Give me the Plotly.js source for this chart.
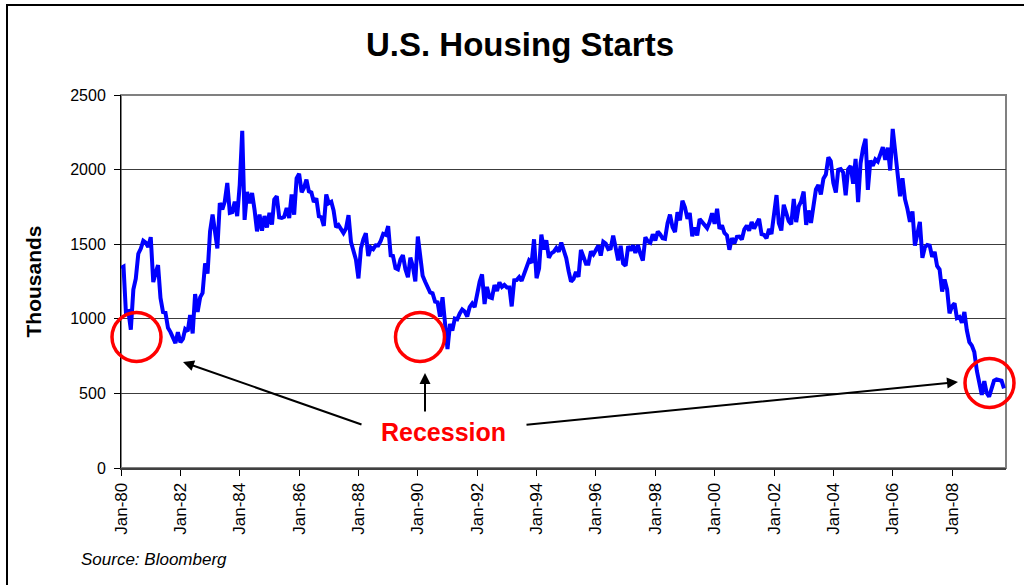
<!DOCTYPE html>
<html>
<head>
<meta charset="utf-8">
<script src="https://cdn.plot.ly/plotly-3.0.1.min.js"></script>
<style>html,body{margin:0;padding:0;background:#fff;}#chart{width:1024px;height:585px;}</style>
</head>
<body>
<div id="chart"></div>
<script>
// Monthly U.S. housing starts, thousands (SAAR), first value = Jan 1980
const firstYear = 1980;
const starts1980s = [
  1341,1350,1047,1051,927,1196,1269,1436,1471,1523,1510,1482,
  1547,1246,1306,1360,1140,1045,1041,940,911,873,837,910,
  843,866,931,917,1025,902,1166,1046,1144,1173,1372,1303,
  1586,1699,1606,1472,1776,1733,1785,1910,1710,1715,1785,1688,
  1897,2260,1663,1851,1774,1843,1732,1586,1698,1590,1689,1612,
  1711,1632,1800,1821,1680,1676,1684,1743,1676,1834,1698,1942,
  1972,1848,1876,1933,1854,1847,1782,1807,1687,1681,1623,1833,
  1774,1784,1726,1614,1628,1594,1575,1605,1695,1515,1456,1397,
  1271,1473,1532,1573,1421,1478,1467,1493,1492,1522,1569,1563,
  1621,1425,1422,1339,1331,1397,1427,1332,1279,1410,1351,1251
];
const starts1990s = [
  1551,1437,1289,1248,1212,1177,1171,1115,1110,1014,1145,969,
  798,965,921,1001,996,1036,1063,1049,1015,1079,1103,1079,
  1176,1250,1297,1099,1214,1145,1139,1226,1186,1244,1214,1227,
  1210,1210,1083,1258,1260,1280,1254,1300,1343,1392,1376,1533,
  1272,1337,1564,1465,1526,1409,1439,1450,1474,1450,1511,1455,
  1407,1316,1249,1267,1314,1281,1461,1416,1369,1369,1452,1431,
  1467,1491,1424,1516,1504,1467,1472,1557,1475,1392,1489,1370,
  1355,1486,1457,1492,1442,1494,1437,1390,1546,1520,1510,1566,
  1525,1584,1567,1540,1536,1641,1698,1614,1582,1715,1660,1792,
  1748,1670,1710,1553,1611,1559,1669,1648,1635,1608,1648,1708
];
const starts2000s = [
  1636,1737,1604,1626,1575,1559,1463,1541,1507,1549,1551,1532,
  1600,1625,1590,1649,1605,1636,1670,1567,1562,1540,1602,1568,
  1698,1829,1642,1592,1764,1717,1655,1633,1804,1648,1753,1788,
  1853,1629,1726,1643,1751,1867,1897,1833,1939,1967,2083,2057,
  1911,1846,1998,2003,1981,1828,2002,2024,1905,2072,1782,2042,
  2144,2207,1864,2061,2025,2068,2054,2095,2151,2065,2147,1994,
  2273,2119,1969,1821,1942,1802,1737,1650,1720,1491,1570,1649,
  1409,1480,1495,1490,1415,1448,1354,1330,1183,1264,1197,1037,
  1084,1103,1005,1013,973,1046,923,844,820,777,652,560,
  490,582,505,478,540,585,594,586,585,534
];
const tickYears = [1980,1982,1984,1986,1988,1990,1992,1994,1996,1998,2000,2002,2004,2006,2008];
const tickLabels = ["Jan-80","Jan-82","Jan-84","Jan-86","Jan-88","Jan-90","Jan-92","Jan-94","Jan-96","Jan-98","Jan-00","Jan-02","Jan-04","Jan-06","Jan-08"];
const yTicks = [0,500,1000,1500,2000,2500];

const values = starts1980s.concat(starts1990s, starts2000s);
const dates = values.map((v, i) => {
  const y = firstYear + Math.floor(i / 12);
  const m = (i % 12) + 1;
  return y + '-' + String(m).padStart(2, '0') + '-01';
});
const tickDates = tickYears.map(y => y + '-01-01');

const FONT = 'Liberation Sans, Arial, sans-serif';

const trace = {
  x: dates, y: values, type: 'scatter', mode: 'lines',
  line: {color: '#0000FF', width: 4},
  hoverinfo: 'x+y'
};

// pixel -> paper helpers for decorations (plot area 121..1006 x, 95..468 y)
const L = 121, R = 1006, T = 95, B = 468;
const px = p => (p - L) / (R - L);
const py = p => (B - p) / (B - T);

const circle = (cx, cy, r) => ({
  type: 'circle', xref: 'paper', yref: 'paper',
  x0: px(cx - r), x1: px(cx + r), y0: py(cy + r), y1: py(cy - r),
  line: {color: '#FF0000', width: 3.5}, layer: 'above'
});

const arrow = (hx, hy, ax, ay) => ({
  xref: 'paper', yref: 'paper', x: px(hx), y: py(hy),
  ax: ax, ay: ay, text: '', showarrow: true,
  arrowhead: 2, arrowsize: 1.1, arrowwidth: 2, arrowcolor: '#000000'
});

const layout = {
  width: 1024, height: 585,
  margin: {l: L, r: 1024 - R, t: T, b: 585 - B, pad: 0},
  paper_bgcolor: '#ffffff', plot_bgcolor: '#ffffff',
  showlegend: false,
  font: {family: FONT, color: '#000000'},
  title: {
    text: 'U.S. Housing Starts',
    font: {family: FONT, size: 33, weight: 'bold', color: '#000000'},
    xref: 'container', yref: 'container', x: 520 / 1024, y: 1 - 44 / 585,
    xanchor: 'center', yanchor: 'middle'
  },
  xaxis: {
    type: 'date', range: ['1980-01-01', '2009-10-26'],
    tickmode: 'array', tickvals: tickDates, ticktext: tickLabels,
    tickangle: -90, tickfont: {family: FONT, size: 17, color: '#000000'},
    ticks: 'outside', ticklen: 6, tickcolor: '#000000', tickwidth: 1,
    showline: true, linecolor: '#404040', linewidth: 2,
    showgrid: false, zeroline: false, automargin: false, fixedrange: true
  },
  yaxis: {
    range: [0, 2500], tickmode: 'array', tickvals: yTicks,
    tickfont: {family: FONT, size: 16, color: '#000000'},
    ticks: 'outside', ticklen: 6, tickcolor: '#000000', tickwidth: 1,
    ticklabelstandoff: 5,
    showline: true, linecolor: '#000000', linewidth: 1,
    showgrid: true, gridcolor: '#3c3c3c', gridwidth: 1,
    zeroline: false, automargin: false, fixedrange: true,
    title: {text: 'Thousands', font: {family: FONT, size: 21, weight: 'bold', color: '#000000'}, standoff: 22}
  },
  shapes: [
    // plot area border (top / right in grey)
    {type: 'rect', xref: 'paper', yref: 'paper', x0: 0, x1: 1, y0: 0, y1: 1,
     line: {color: '#808080', width: 2}, layer: 'below'},
    // chart outer frame
    {type: 'rect', xref: 'paper', yref: 'paper',
     x0: px(7), x1: px(1040), y0: py(600), y1: py(5),
     line: {color: '#000000', width: 2}, layer: 'below'},
    circle(136.5, 337, 24.5),
    circle(420, 337, 24.5),
    circle(989.5, 383, 24.5)
  ],
  annotations: [
    arrow(183, 362, 180, 63),
    arrow(425, 373, 0, 40),
    arrow(958, 382, -433, 43),
    {xref: 'paper', yref: 'paper', x: px(443), y: py(432), xanchor: 'center', yanchor: 'middle',
     text: 'Recession', showarrow: false,
     font: {family: FONT, size: 25, weight: 'bold', color: '#FF0000'}},
    {xref: 'paper', yref: 'paper', x: px(79), y: py(559), xanchor: 'left', yanchor: 'middle',
     text: 'Source: Bloomberg', showarrow: false,
     font: {family: FONT, size: 17, style: 'italic', color: '#000000'}}
  ]
};

Plotly.newPlot('chart', [trace], layout, {displayModeBar: false, staticPlot: true});
</script>
</body>
</html>
